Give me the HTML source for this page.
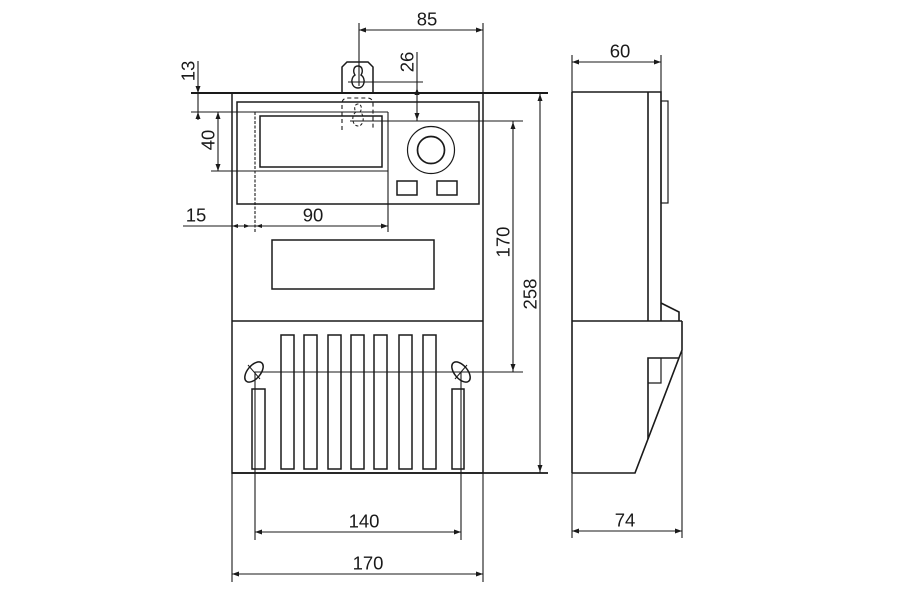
<!DOCTYPE html>
<html><head><meta charset="utf-8"><style>
html,body{margin:0;padding:0;background:#fff;}
svg{display:block;}
text{font-family:"Liberation Sans",Arial,sans-serif;font-size:18.5px;fill:#1a1a1a;}
</style></head><body>
<svg width="900" height="600" viewBox="0 0 900 600" xmlns="http://www.w3.org/2000/svg">
<g fill="none" stroke="#1a1a1a" stroke-width="1.5">
<!-- front body -->
<rect x="232" y="93" width="251" height="380"/>
<rect x="237" y="102" width="242" height="102"/>
<rect x="260" y="116" width="122" height="51"/>
<circle cx="431" cy="150" r="23.5" stroke-width="1.2"/>
<circle cx="431" cy="150" r="13.5" stroke-width="1.7"/>
<rect x="397" y="181" width="20" height="14"/>
<rect x="437" y="181" width="20" height="14"/>
<rect x="272" y="240" width="162" height="49"/>
<line x1="232" y1="321" x2="483" y2="321"/>
<!-- fins -->
<rect x="281" y="335" width="13" height="134"/>
<rect x="304" y="335" width="13" height="134"/>
<rect x="328" y="335" width="13" height="134"/>
<rect x="351" y="335" width="13" height="134"/>
<rect x="374" y="335" width="13" height="134"/>
<rect x="399" y="335" width="13" height="134"/>
<rect x="423" y="335" width="13" height="134"/>
<rect x="252" y="389" width="13" height="80"/>
<rect x="452" y="389" width="12" height="80"/>
<!-- ovals -->
<ellipse cx="254" cy="372" rx="12" ry="6.5" transform="rotate(-50 254 372)"/>
<line x1="248" y1="365" x2="260" y2="379" stroke-width="1"/>
<ellipse cx="461" cy="372" rx="12" ry="6.5" transform="rotate(50 461 372)"/>
<line x1="455" y1="379" x2="467" y2="365" stroke-width="1"/>
<!-- lug -->
<path d="M342 93 V67 L347 62 H368 L373 67 V93"/>
<path d="M358 66 C353 66 353 72 355 75 C350 78 351 88 358 88 C365 88 366 78 361 75 C363 72 363 66 358 66 Z" stroke-width="1.4"/>
<path d="M342 130 V104 Q342 98 348 98 H367 Q373 98 373 104 V130" stroke-dasharray="4 3" stroke-width="1.1"/>
<path d="M358 104 C354 104 354 110 356 112 C351 115 352 126 358 126 C364 126 365 115 360 112 C362 110 362 104 358 104 Z" stroke-dasharray="3 2" stroke-width="1"/>
<!-- top line thick -->
<line x1="191" y1="93" x2="548" y2="93" stroke-width="1.9"/>
<line x1="232" y1="473" x2="548" y2="473" stroke-width="1.7"/>
</g>
<g fill="none" stroke="#1a1a1a" stroke-width="1.1">
<!-- extension & dimension lines -->
<line x1="359" y1="23" x2="359" y2="86"/>
<line x1="483" y1="23" x2="483" y2="93"/>
<line x1="359" y1="30" x2="483" y2="30"/>
<line x1="348" y1="82" x2="423" y2="82"/>
<line x1="417" y1="52" x2="417" y2="121"/>
<line x1="350" y1="121" x2="523" y2="121"/>
<line x1="198" y1="61" x2="198" y2="120"/>
<line x1="191" y1="112" x2="388" y2="112"/>
<line x1="218" y1="112" x2="218" y2="171"/>
<line x1="211" y1="171" x2="388" y2="171"/>
<line x1="255" y1="112" x2="255" y2="232" stroke-dasharray="3 1.5"/>
<line x1="388" y1="112" x2="388" y2="232"/>
<line x1="183" y1="226" x2="388" y2="226"/>
<line x1="513" y1="121" x2="513" y2="372"/>
<line x1="254" y1="372" x2="523" y2="372"/>
<line x1="540" y1="93" x2="540" y2="473"/>
<line x1="255" y1="372" x2="255" y2="540"/>
<line x1="461" y1="372" x2="461" y2="540"/>
<line x1="255" y1="532" x2="461" y2="532"/>
<line x1="232" y1="473" x2="232" y2="582"/>
<line x1="483" y1="473" x2="483" y2="582"/>
<line x1="232" y1="574" x2="483" y2="574"/>
<!-- side dims -->
<line x1="572" y1="55" x2="572" y2="92"/>
<line x1="661" y1="55" x2="661" y2="92"/>
<line x1="572" y1="62" x2="661" y2="62"/>
<line x1="572" y1="473" x2="572" y2="538"/>
<line x1="682" y1="350" x2="682" y2="538"/>
<line x1="572" y1="531" x2="682" y2="531"/>
</g>
<!-- side view -->
<g fill="none" stroke="#1a1a1a" stroke-width="1.6">
<path d="M572 92 H661 V321"/>
<line x1="572" y1="92" x2="572" y2="473"/>
<line x1="648" y1="92" x2="648" y2="321"/>
<rect x="661" y="101" width="7" height="102" stroke-width="1.2"/>
<path d="M661 303 L679 312 V321"/>
<line x1="572" y1="321" x2="682" y2="321"/>
<path d="M682 321 V350 L635 473 H572"/>
<path d="M648 439 V358 H679"/>
<path d="M648 383 H661 V358" stroke-width="1.2"/>
</g>
<!-- arrowheads -->
<g fill="#1a1a1a">
<polygon points="359,30 366,27.5 366,32.5"/>
<polygon points="483,30 476,27.5 476,32.5"/>
<polygon points="572,62 579,59.5 579,64.5"/>
<polygon points="661,62 654,59.5 654,64.5"/>
<polygon points="198,93 195.5,86 200.5,86"/>
<polygon points="198,112 195.5,119 200.5,119"/>
<polygon points="218,112 215.5,119 220.5,119"/>
<polygon points="218,171 215.5,164 220.5,164"/>
<polygon points="417,88 414.5,95 419.5,95"/>
<polygon points="417,120 414.5,113 419.5,113"/>
<polygon points="232,226 238,224 238,228"/>
<polygon points="250,226 244,224 244,228"/>
<polygon points="256,226 262,224 262,228"/>
<polygon points="388,226 381,223.5 381,228.5"/>
<polygon points="513,122 510.5,129 515.5,129"/>
<polygon points="513,371 510.5,364 515.5,364"/>
<polygon points="540,94 537.5,101 542.5,101"/>
<polygon points="540,472 537.5,465 542.5,465"/>
<polygon points="255,532 262,529.5 262,534.5"/>
<polygon points="461,532 454,529.5 454,534.5"/>
<polygon points="232,574 239,571.5 239,576.5"/>
<polygon points="483,574 476,571.5 476,576.5"/>
<polygon points="572,531 579,528.5 579,533.5"/>
<polygon points="682,531 675,528.5 675,533.5"/>
</g>
<!-- labels -->
<g text-anchor="middle" dominant-baseline="central">
<text x="427" y="19">85</text>
<text x="620" y="51">60</text>
<text x="313" y="215">90</text>
<text x="196" y="215">15</text>
<text x="364" y="521">140</text>
<text x="368" y="563">170</text>
<text x="625" y="520">74</text>
<text x="188" y="71" transform="rotate(-90 188 71)">13</text>
<text x="407" y="62" transform="rotate(-90 407 62)">26</text>
<text x="208" y="140" transform="rotate(-90 208 140)">40</text>
<text x="503" y="242" transform="rotate(-90 503 242)">170</text>
<text x="530" y="294" transform="rotate(-90 530 294)">258</text>
</g>
</svg>
</body></html>
